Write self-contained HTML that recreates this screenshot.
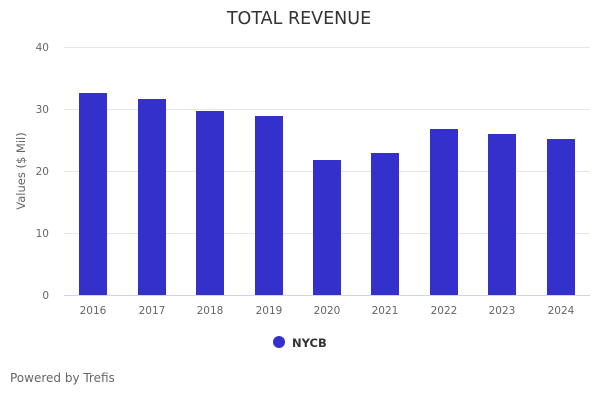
<!DOCTYPE html>
<html><head><meta charset="utf-8"><style>
body{margin:0;background:#fff;width:600px;height:400px;overflow:hidden;font-family:"DejaVu Sans",sans-serif}
</style></head><body>
<svg width="600" height="400" xmlns="http://www.w3.org/2000/svg" font-family="DejaVu Sans, sans-serif">
<text x="299" y="24" text-anchor="middle" font-size="17.5" fill="#333">TOTAL REVENUE</text>
<g stroke="#e6e6e6" stroke-width="1">
<line x1="64" x2="590" y1="47.5" y2="47.5"/>
<line x1="64" x2="590" y1="109.5" y2="109.5"/>
<line x1="64" x2="590" y1="171.5" y2="171.5"/>
<line x1="64" x2="590" y1="233.5" y2="233.5"/>
</g>
<line x1="64" x2="590" y1="295.5" y2="295.5" stroke="#ccd6eb"/>
<g font-size="10.5" fill="#666" text-anchor="end">
<text x="49" y="51">40</text><text x="49" y="113">30</text><text x="49" y="175">20</text><text x="49" y="237">10</text><text x="49" y="299">0</text>
</g>
<text transform="translate(25,171) rotate(-90)" text-anchor="middle" font-size="11.5" fill="#666">Values ($ Mil)</text>
<g fill="#3330cc">
<rect x="79" y="93" width="28" height="202"/>
<rect x="138" y="99" width="28" height="196"/>
<rect x="196" y="111" width="28" height="184"/>
<rect x="255" y="116" width="28" height="179"/>
<rect x="313" y="160" width="28" height="135"/>
<rect x="371" y="153" width="28" height="142"/>
<rect x="430" y="129" width="28" height="166"/>
<rect x="488" y="134" width="28" height="161"/>
<rect x="547" y="139" width="28" height="156"/>
</g>
<g font-size="10.5" fill="#666" text-anchor="middle">
<text x="93" y="314">2016</text><text x="152" y="314">2017</text><text x="210" y="314">2018</text><text x="269" y="314">2019</text><text x="327" y="314">2020</text><text x="385" y="314">2021</text><text x="444" y="314">2022</text><text x="502" y="314">2023</text><text x="561" y="314">2024</text>
</g>
<circle cx="279" cy="342" r="6" fill="#3330cc"/>
<text x="292" y="347" font-size="11.5" font-weight="bold" fill="#333">NYCB</text>
<text x="10" y="382" font-size="12" fill="#666">Powered by Trefis</text>
</svg>
</body></html>
